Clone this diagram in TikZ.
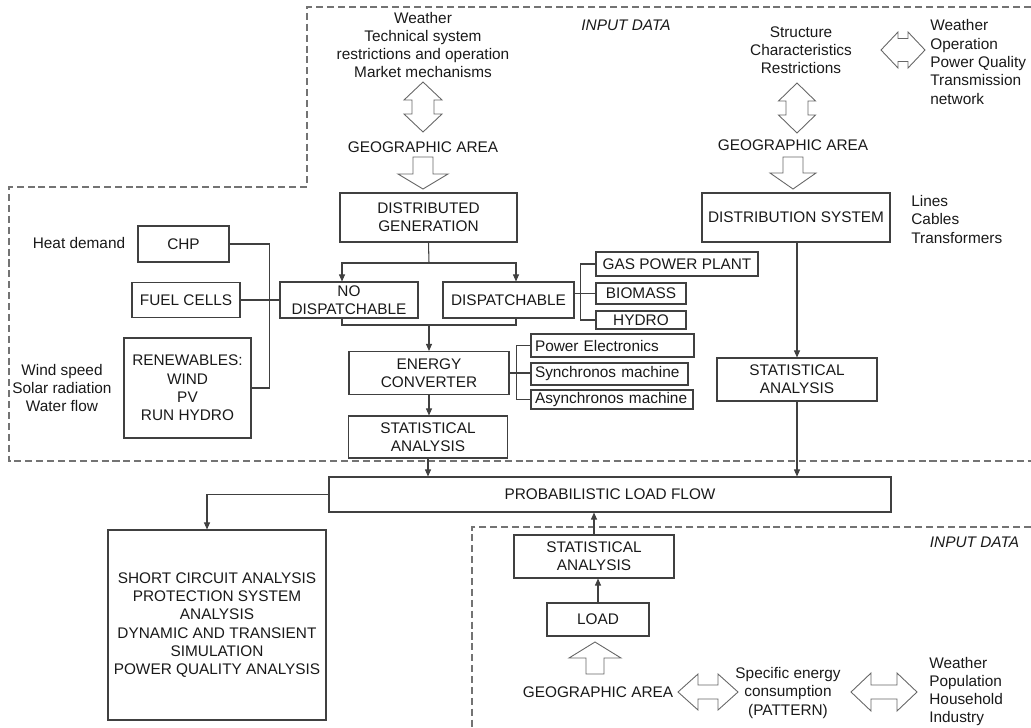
\documentclass[tikz,border=0pt]{standalone}
\usepackage{fontspec}
\setmainfont{Liberation Sans}
\usepackage{tikz}
\usetikzlibrary{calc,arrows.meta}
\def\pxu{0.02cm}
\tikzstyle{arrow} = [draw=black!75, line width=0.6pt, -{Triangle[length=4pt,width=3.4pt]}]
\tikzstyle{link} = [draw=black!75, line width=0.6pt]
\tikzset{wh/.style 2 args={minimum width=#1*\pxu, minimum height=#2*\pxu}}

% hollow block arrows (x, tail, head base, tip, head width, shaft width)
\newcommand{\blockdown}[6]{%
  \draw[fat arrow] ({#1-#6/2},#2) -- ({#1-#6/2},#3) -- ({#1-#5/2},#3) -- (#1,#4)
    -- ({#1+#5/2},#3) -- ({#1+#6/2},#3) -- ({#1+#6/2},#2) -- cycle;}
% (x, top tip, bottom tip, head width, shaft width, head length)
\newcommand{\blockdblV}[6]{%
  \draw[fat arrow] (#1,#2) -- ({#1+#4/2},{#2+#6}) -- ({#1+#5/2},{#2+#6}) -- ({#1+#5/2},{#3-#6})
    -- ({#1+#4/2},{#3-#6}) -- (#1,#3) -- ({#1-#4/2},{#3-#6}) -- ({#1-#5/2},{#3-#6})
    -- ({#1-#5/2},{#2+#6}) -- ({#1-#4/2},{#2+#6}) -- cycle;}
% (y, left tip, right tip, head height, shaft height, head length)
\newcommand{\blockdblH}[6]{%
  \draw[fat arrow] (#2,#1) -- ({#2+#6},{#1-#4/2}) -- ({#2+#6},{#1-#5/2}) -- ({#3-#6},{#1-#5/2})
    -- ({#3-#6},{#1-#4/2}) -- (#3,#1) -- ({#3-#6},{#1+#4/2}) -- ({#3-#6},{#1+#5/2})
    -- ({#2+#6},{#1+#5/2}) -- ({#2+#6},{#1+#4/2}) -- cycle;}

\begin{document}
\begin{tikzpicture}[x=\pxu, y=-\pxu, font=\fontsize{8.75}{10.4}\selectfont]
    \tikzstyle{block}=[rectangle, draw=black!75, line width=0.6pt, inner sep=0pt, align=center, text=black!90]
    \tikzstyle{left block}=[block, align=left, inner xsep=4*\pxu]
    \tikzstyle{label text}=[inner sep=0pt, align=center, text=black!90]
    \tikzstyle{side text}=[inner sep=0pt, align=left, anchor=west, text=black!90]
    \tikzstyle{input frame}=[draw=black!55, line width=0.6pt, dash pattern=on 4pt off 2.2pt]
    \tikzstyle{fat arrow}=[draw=black!60, line width=0.5pt, fill=white, line join=miter]

    \useasboundingbox (0,0) rectangle (1031,727);

    % Draw the input data frames
    \draw[input frame] (1031,7) -- (307,7) -- (307,187) -- (9,187) -- (9,461) -- (1031,461);
    \draw[input frame] (1031,527) -- (472,527) -- (472,727);
    \node[label text, font=\fontsize{8.75}{10.4}\selectfont\itshape] (in-top) at (626,25) {INPUT DATA};
    \node[label text, font=\fontsize{8.75}{10.4}\selectfont\itshape] (in-bottom) at (974.5,542) {INPUT DATA};

    % Draw the generation inputs
    \node[label text] (DG-in) at (423,45) {Weather\\Technical system\\restrictions and operation\\Market mechanisms};
    \node[label text] (DG-geo) at (423,147) {GEOGRAPHIC AREA};
    \blockdblV{423}{82}{132}{38}{22}{18}
    \blockdown{423}{157}{174}{189}{50}{20}

    % Draw the distribution inputs
    \node[label text] (DS-in) at (801,50) {Structure\\Characteristics\\Restrictions};
    \node[side text] (DS-ext) at (930,62) {Weather\\Operation\\Power Quality\\Transmission\\network};
    \node[label text] (DS-geo) at (793,145) {GEOGRAPHIC AREA};
    \node[side text] (DS-lines) at (911,219.5) {Lines\\Cables\\Transformers};
    \blockdblH{50}{881}{925}{36}{23}{17}
    \blockdblV{797}{83}{133}{37}{22}{18}
    \blockdown{793}{157}{173}{189}{46}{20}

    % Draw the generation blocks
    \node[block, wh={177}{49}] (DG) at (428.5,217.5) {DISTRIBUTED\\GENERATION};
    \node[block, wh={138}{36}] (NoDisp) at (349,300) {NO\\DISPATCHABLE};
    \node[block, wh={131}{36}] (Disp) at (508.5,300) {DISPATCHABLE};
    \node[block, wh={160}{43}] (EC) at (429,373) {ENERGY\\CONVERTER};
    \node[block, wh={159}{42}] (SA-1) at (428,437) {STATISTICAL\\ANALYSIS};

    \node[label text] (heat) at (79,243) {Heat demand};
    \node[label text] (wind) at (62,388) {Wind speed\\Solar radiation\\Water flow};
    \node[block, wh={91}{36}] (CHP) at (183.5,244) {CHP};
    \node[block, wh={108}{35}] (FC) at (186,300) {FUEL CELLS};
    \node[block, wh={127}{100}] (REN) at (187.5,388) {RENEWABLES:\\WIND\\PV\\RUN HYDRO};

    \node[block, wh={162}{24}] (GPP) at (677,264) {GAS POWER PLANT};
    \node[block, wh={90}{21}] (BIO) at (641,293.5) {BIOMASS};
    \node[block, wh={90}{18}] (HYD) at (641,320) {HYDRO};

    \node[left block, wh={163}{23}, text width=155*\pxu] (PE) at (612.5,345.5) {\mbox{Power Electronics}};
    \node[left block, wh={157}{22}, text width=149*\pxu] (SM) at (609.5,374) {\mbox{Synchronos machine}};
    \node[left block, wh={162}{19}, text width=154*\pxu] (AM) at (612,399.5) {\mbox{Asynchronos machine}};

    % Draw the distribution blocks
    \node[block, wh={188}{49}] (DS) at (796,217.5) {DISTRIBUTION SYSTEM};
    \node[block, wh={160}{43}] (SA-2) at (797,379.5) {STATISTICAL\\ANALYSIS};

    % Draw the load flow and studies
    \node[block, wh={562}{35}] (PLF) at (610,494.5) {PROBABILISTIC LOAD FLOW};
    \node[block, wh={218}{190}] (BIG) at (217,625) {SHORT CIRCUIT ANALYSIS\\PROTECTION SYSTEM\\ANALYSIS\\DYNAMIC AND TRANSIENT\\SIMULATION\\POWER QUALITY ANALYSIS};

    % Draw the load side
    \node[block, wh={160}{43}] (SA-3) at (594,556.5) {STATISTICAL\\ANALYSIS};
    \node[block, wh={102}{33}] (LOAD) at (598,619.5) {LOAD};
    \node[label text] (L-geo) at (598,692) {GEOGRAPHIC AREA};
    \node[label text] (spec) at (788,693) {Specific energy\\consumption\\(PATTERN)};
    \node[side text] (L-ext) at (929,691.5) {Weather\\Population\\Household\\Industry};
    \blockdown{595}{674}{658}{642}{52}{18}
    \blockdblH{692}{678}{738}{36}{14}{20}
    \blockdblH{692}{851}{917}{38}{14}{20}

    % Connect the generation blocks
    \coordinate (split) at (429,263);
    \coordinate (merge) at (429,325);
    \draw[link] (DG.south) -- (split);
    \draw[arrow] (split) -| ([xshift=-7*\pxu]NoDisp.north);
    \draw[arrow] (split) -| ([xshift=7.5*\pxu]Disp.north);
    \draw[link] ([xshift=-7*\pxu]NoDisp.south) |- (merge) -| ([xshift=7.5*\pxu]Disp.south);
    \draw[arrow] (merge) -- (EC.north);
    \draw[arrow] (EC.south) -- (EC.south |- SA-1.north);
    \draw[arrow] (SA-1.south) -- (SA-1.south |- PLF.north);

    \draw[link] (CHP.east) -| ([xshift=18*\pxu]REN.east) -- (REN.east);
    \draw[link] (FC.east) -- (NoDisp.west);
    \draw[link] (Disp.east |- BIO.west) -- (BIO.west);
    \draw[link] (GPP.west) -| ([xshift=-15*\pxu]HYD.west) -- (HYD.west);
    \draw[link] (EC.east) -- (SM.west |- EC.east);
    \draw[link] (PE.west) -| ([xshift=-14*\pxu]AM.west) -- (AM.west);

    % Connect the distribution and load blocks
    \draw[arrow] (SA-2.north |- DS.south) -- (SA-2.north);
    \draw[arrow] (SA-2.south) -- (SA-2.south |- PLF.north);
    \draw[arrow] (PLF.west) -| ([xshift=-10*\pxu]BIG.north);
    \draw[arrow] (SA-3.north) -- (SA-3.north |- PLF.south);
    \draw[arrow] (LOAD.north) -- (LOAD.north |- SA-3.south);
\end{tikzpicture}
\end{document}
